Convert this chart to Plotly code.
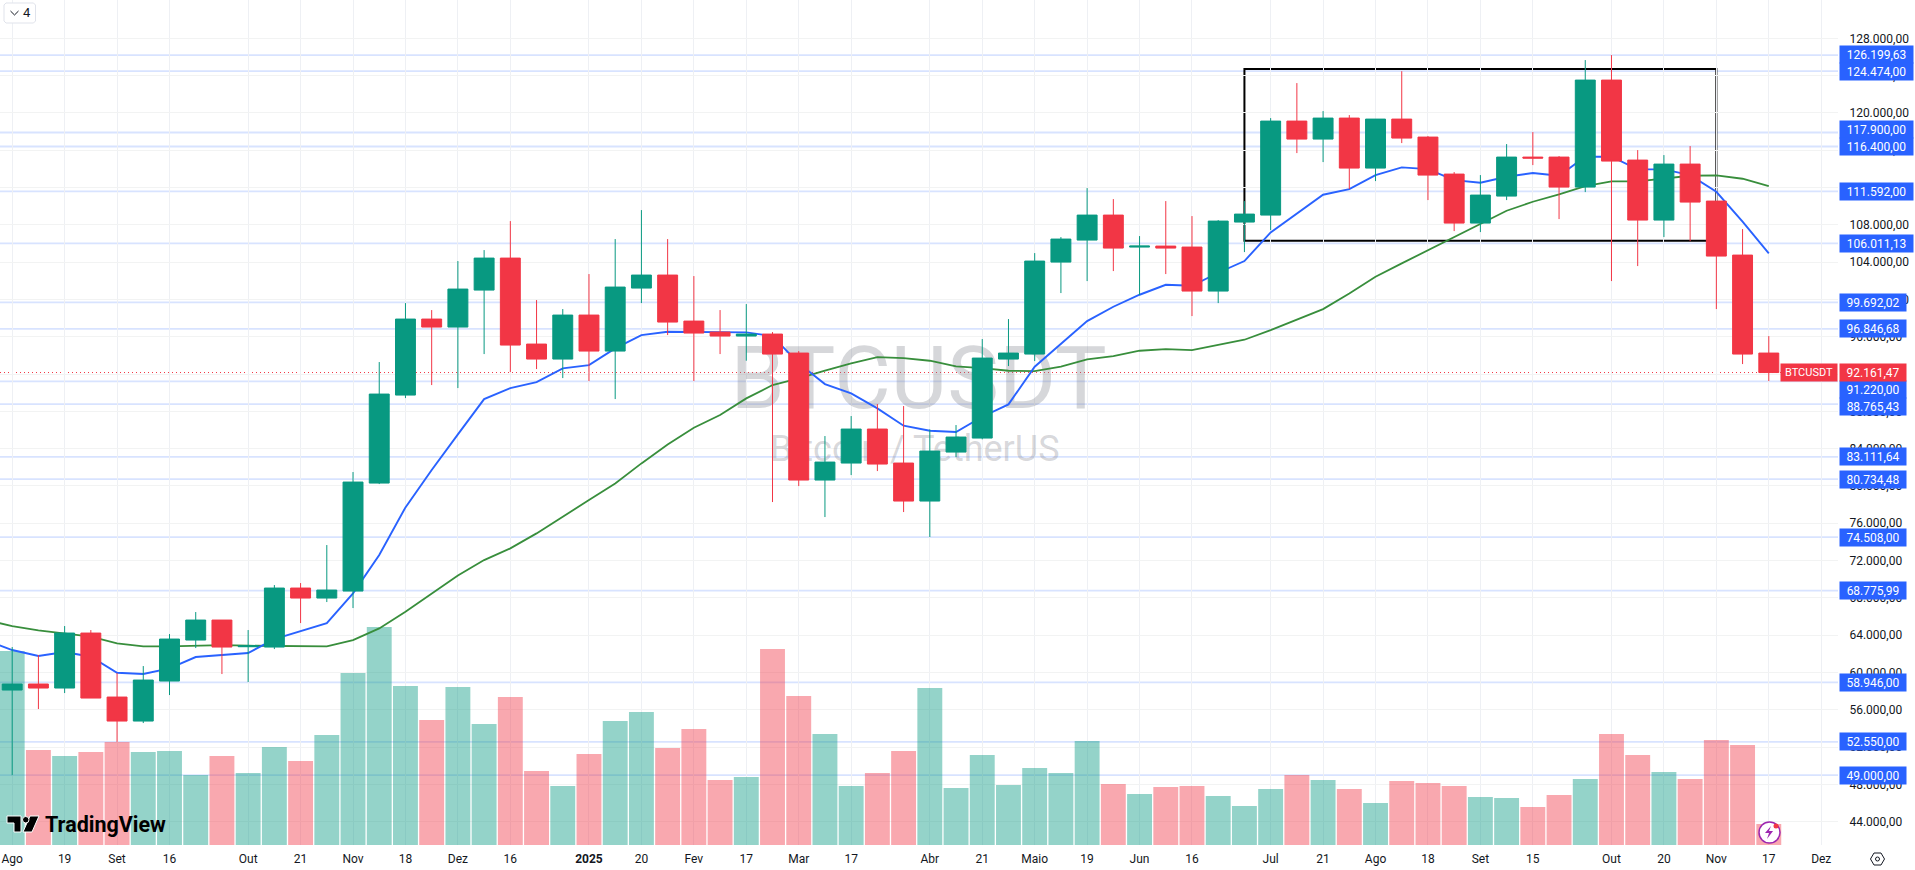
import pandas as pd
import plotly.graph_objects as go

# weekly BTCUSDT candles
weeks = pd.date_range("2024-08-05", periods=68, freq="7D")
opens = [58115, 58759, 58330, 64226, 57364, 54790, 59080, 63476, 65621, 62760, 62725, 69052, 67980, 68730, 80309, 89745,
         97894, 97037, 101003, 104434, 95213, 93605, 98323, 94463, 101218, 102612, 97679, 96500, 96072, 96286, 94248, 80631,
         82454, 86100, 82454, 78380, 83633, 85134, 93605, 94141, 104005, 106364, 109045, 105614, 105721, 105614, 100896, 108295,
         109045, 119124, 117194, 119445, 114084, 119338, 117408, 113441, 108187, 111082, 115263, 115263, 112047, 123519, 114942, 108509,
         114513, 110546, 104756, 94248]
highs = [62726, 61868, 64977, 64548, 59938, 60688, 64120, 66478, 65621, 64548, 69373, 69587, 73662, 81489, 93284, 99609,
         98859, 104113, 105292, 108401, 99931, 98966, 102719, 106472, 109581, 106472, 102505, 98859, 99502, 96500, 94463, 85349,
         87494, 88780, 88566, 86065, 86530, 95749, 97894, 104970, 106686, 111939, 110760, 106794, 110546, 108937, 108508, 110546,
         119445, 123198, 120196, 119767, 119338, 124474, 117515, 113655, 113333, 116658, 117944, 115370, 125664, 126200, 116014, 115478,
         116443, 110546, 107544, 96071]
lows = [48981, 56078, 57793, 57257, 52550, 54576, 57579, 62618, 59830, 58973, 62511, 65299, 67550, 66907, 80202, 89423,
        90817, 90495, 94141, 92212, 92533, 91567, 91246, 89316, 99609, 96179, 91246, 94141, 93427, 78272, 79988, 76664,
        81167, 81596, 77200, 74520, 83097, 85000, 92855, 93390, 100682, 101968, 103041, 100467, 102719, 98216, 99609, 105077,
        107436, 115693, 114727, 111833, 112690, 116765, 110653, 107329, 107222, 110653, 114406, 108616, 111511, 101969, 103577, 106686,
        106257, 98966, 93069, 91246]
closes = [58759, 58330, 64226, 57257, 54790, 59187, 63583, 65621, 62725, 62850, 69052, 67980, 68837, 80417, 89852, 97894,
          97037, 101111, 104434, 95106, 93605, 98323, 94463, 101325, 102612, 97572, 96393, 96072, 96286, 94141, 80631, 82561,
          86100, 82347, 78380, 83740, 85242, 93712, 94248, 104113, 106472, 109045, 105506, 105721, 105506, 100896, 108401, 109152,
          119124, 117194, 119445, 114084, 119338, 117300, 113333, 108187, 111189, 115263, 115156, 112047, 123519, 114835, 108509, 114513,
          110438, 104649, 94141, 92161]
volumes = [194, 95, 89, 93, 103, 93, 94, 70, 89, 72, 98, 84, 110, 172, 218, 159,
           125, 158, 121, 148, 74, 59, 91, 124, 133, 97, 116, 65, 68, 196, 149, 111,
           59, 72, 94, 157, 57, 90, 60, 77, 72, 104, 61, 51, 58, 59, 49, 39,
           56, 70, 65, 56, 42, 64, 62, 59, 48, 47, 38, 50, 66, 111, 90, 73,
           66, 105, 100, 21]

# the moving averages start one week before the first visible candle
ma_weeks = pd.date_range("2024-07-29", periods=69, freq="7D")
ma_fast = [63476, 62404, 61761, 62190, 61689, 59973, 59830, 60438, 61653, 61868, 62082, 63583, 64476, 65299, 68480, 72590, 77700,
           81703, 85527, 89316, 90495, 91139, 92604, 92962, 94749, 96179, 96536, 96536, 96465, 96465, 96072, 93140, 90925,
           89924, 88316, 86458, 85921, 85778, 87422, 88744, 92783, 95284, 97679, 99216, 100503, 101575, 101468, 102862, 104113,
           107186, 109223, 111225, 111833, 113333, 114156, 113977, 112798, 112511, 113154, 113548, 113262, 115299, 115299, 113941, 113941,
           113333, 111546, 108330, 104935]
ma_slow = [65621, 64977, 64512, 64191, 63833, 63118, 62797, 62797, 62868, 62940, 62868, 62832, 62797, 62797, 63476, 64727, 66514,
           68480, 70410, 72053, 73305, 74913, 76664, 78487, 80274, 82418, 84455, 86244, 87601, 89390, 90817, 91532, 92355,
           93140, 93820, 93712, 93427, 92819, 92640, 92355, 92319, 92783, 93569, 93927, 94498, 94677, 94570, 95106, 95678,
           96714, 97858, 98966, 100646, 102433, 103862, 105292, 106722, 108080, 109510, 110475, 111260, 112154, 112654, 112654, 112976,
           113262, 113298, 112940, 112154]

levels = [126199.63, 124474.00, 117900.00, 116400.00, 111592.00, 106011.13, 99692.02, 96846.68, 91220.00, 88765.43,
          83111.64, 80734.48, 74508.00, 68775.99, 58946.00, 52550.00, 49000.00]
level_labels = ["126.199,63", "124.474,00", "117.900,00", "116.400,00", "111.592,00", "106.011,13", "99.692,02", "96.846,68",
                "91.220,00", "88.765,43", "83.111,64", "80.734,48", "74.508,00", "68.775,99", "58.946,00", "52.550,00", "49.000,00"]
# labels that TradingView pushes away from their line so they don't collide
label_shift = {"126.199,63": 1, "117.900,00": 3, "91.220,00": -8, "88.765,43": -2}

price_ticks = list(range(44000, 132001, 4000))

tick_dates = ["2024-08-05", "2024-08-19", "2024-09-02", "2024-09-16", "2024-10-07", "2024-10-21", "2024-11-04", "2024-11-18",
              "2024-12-02", "2024-12-16", "2025-01-06", "2025-01-20", "2025-02-03", "2025-02-17", "2025-03-03", "2025-03-17",
              "2025-04-07", "2025-04-21", "2025-05-05", "2025-05-19", "2025-06-02", "2025-06-16", "2025-07-07", "2025-07-21",
              "2025-08-04", "2025-08-18", "2025-09-01", "2025-09-15", "2025-10-06", "2025-10-20", "2025-11-03", "2025-11-17",
              "2025-12-01"]
tick_labels = ["Ago", "19", "Set", "16", "Out", "21", "Nov", "18", "Dez", "16", "<b>2025</b>", "20", "Fev", "17", "Mar", "17",
               "Abr", "21", "Maio", "19", "Jun", "16", "Jul", "21", "Ago", "18", "Set", "15", "Out", "20", "Nov", "17", "Dez"]

last_price = 92161.47

UP = "#089981"
DOWN = "#f23645"
BADGE = "#2962ff"
TEXT = "#131722"
PLOT_W = 1838
PLOT_H = 845


def px(x):
    return x / PLOT_W


def py(y):
    return 1 - y / PLOT_H


def pixel_path(points, closed=True):
    # svg path from pixel points, in paper coordinates
    path = "M " + " L ".join(f"{px(x):.5f} {py(y):.5f}" for x, y in points)
    return path + " Z" if closed else path


def price_text(v):
    return f"{v:,.2f}".replace(",", "#").replace(".", ",").replace("#", ".")


bar_colors = ["rgba(8,153,129,0.43)" if c >= o else "rgba(242,54,69,0.43)" for o, c in zip(opens, closes)]

fig = go.Figure()

# volume sits at the bottom, then the averages, candles on top of everything
fig.add_trace(go.Bar(x=weeks, y=volumes, marker=dict(color=bar_colors, line_width=0), yaxis="y", showlegend=False))
fig.add_trace(go.Scatter(x=["2025-04-04", "2025-04-03"], y=[90700, 83600], mode="text", yaxis="y2", showlegend=False,
                         text=["BTCUSDT", "Bitcoin / TetherUS"], textposition="middle center",
                         textfont=dict(family="Roboto", size=[87, 36], color="rgba(120,123,134,0.3)")))
fig.add_trace(go.Scatter(x=ma_weeks, y=ma_slow, mode="lines", line=dict(color="#388e3c", width=1.8), yaxis="y2", showlegend=False))
fig.add_trace(go.Scatter(x=ma_weeks, y=ma_fast, mode="lines", line=dict(color="#2962ff", width=1.9), yaxis="y2", showlegend=False))
fig.add_trace(go.Candlestick(x=weeks, open=opens, high=highs, low=lows, close=closes, yaxis="y3", showlegend=False, whiskerwidth=0,
                             increasing=dict(line=dict(color=UP, width=1), fillcolor=UP),
                             decreasing=dict(line=dict(color=DOWN, width=1), fillcolor=DOWN)))

shapes = []
for level in levels:
    shapes.append(dict(type="line", xref="paper", yref="y3", x0=0, x1=1, y0=level, y1=level, layer="below",
                       line=dict(color="rgba(41,98,255,0.18)", width=1.8)))
shapes.append(dict(type="line", xref="paper", yref="y3", x0=0, x1=1, y0=last_price, y1=last_price, layer="below",
                   line=dict(color=DOWN, width=1, dash="1px,3px")))
shapes.append(dict(type="rect", xref="x", yref="y3", x0="2025-06-30", x1="2025-11-03", y0=106293, y1=124700, layer="below",
                   line=dict(color="#000000", width=2)))

# TradingView logo
logo = dict(type="path", xref="paper", yref="paper", fillcolor="#000000", line=dict(color="#ffffff", width=1))
shapes.append(dict(logo, path=pixel_path([(7, 816), (21, 816), (21, 832), (14, 832), (14, 823), (7, 823)])))
shapes.append(dict(logo, path=pixel_path([(30, 816), (39, 816), (32, 832), (23, 832)])))
shapes.append(dict(type="circle", xref="paper", yref="paper", x0=px(22.5), x1=px(29), y0=py(823), y1=py(816.5),
                   fillcolor="#000000", line=dict(color="#ffffff", width=1)))

# indicator toggle, top left
shapes.append(dict(type="path", xref="paper", yref="paper", fillcolor="#ffffff", line=dict(color="#e0e3eb", width=1),
                   path=pixel_path([(6, 3), (33.5, 3), (35.5, 5), (35.5, 21), (33.5, 23), (6, 23), (4, 21), (4, 5)])))
shapes.append(dict(type="path", xref="paper", yref="paper", line=dict(color=TEXT, width=1),
                   path=pixel_path([(10.5, 11), (14.5, 15), (18.5, 11)], closed=False)))

# lightning badge on the last bar
shapes.append(dict(type="circle", xref="paper", yref="paper", x0=px(1759), x1=px(1780), y0=py(843), y1=py(822),
                   fillcolor="#ffffff", line=dict(color="#9c27b0", width=1.5)))
shapes.append(dict(type="path", xref="paper", yref="paper", fillcolor="#9c27b0", line_width=0,
                   path=pixel_path([(1771, 826), (1765, 833), (1769, 833), (1767, 839), (1773, 831), (1769, 831)])))
shapes.append(dict(type="circle", xref="paper", yref="paper", x0=px(1773.5), x1=px(1778.5), y0=py(828.5), y1=py(823.5),
                   fillcolor=DOWN, line_width=0))

# settings icon, bottom right
shapes.append(dict(type="path", xref="paper", yref="paper", fillcolor="rgba(0,0,0,0)", line=dict(color=TEXT, width=1),
                   path=pixel_path([(1870.5, 859), (1874, 853), (1881, 853), (1884.5, 859), (1881, 865), (1874, 865)])))
shapes.append(dict(type="circle", xref="paper", yref="paper", x0=px(1875.5), x1=px(1879.5), y0=py(861), y1=py(857),
                   fillcolor="rgba(0,0,0,0)", line=dict(color=TEXT, width=1)))

annotations = []
for level, label in zip(levels, level_labels):
    annotations.append(dict(xref="paper", yref="y3", x=1, y=level, xanchor="left", yanchor="middle", xshift=1,
                            yshift=label_shift.get(label, 0), text=label, showarrow=False, width=73 if len(label) > 9 else 66,
                            height=17, borderpad=0, align="center", valign="middle", bgcolor=BADGE,
                            font=dict(family="Roboto", size=12, color="#ffffff")))
annotations.append(dict(xref="paper", yref="y3", x=1, y=last_price, xanchor="left", yanchor="middle", xshift=1, text=price_text(last_price),
                        showarrow=False, width=66, height=17, borderpad=0, align="center", valign="middle", bgcolor=DOWN,
                        font=dict(family="Roboto", size=12, color="#ffffff")))
annotations.append(dict(xref="paper", yref="y3", x=1, y=last_price, xanchor="right", yanchor="middle", text="BTCUSDT",
                        showarrow=False, width=56, height=17, borderpad=0, align="center", valign="middle", bgcolor=DOWN,
                        font=dict(family="Roboto", size=11, color="#ffffff")))
annotations.append(dict(xref="paper", yref="paper", x=px(43), y=py(824), xanchor="left", yanchor="middle", text="<b>TradingView</b>",
                        showarrow=False, font=dict(family="Roboto", size=21.5, color="#000000")))
annotations.append(dict(xref="paper", yref="paper", x=px(27.3), y=py(13), xanchor="center", yanchor="middle", text="4", showarrow=False,
                        font=dict(family="Roboto", size=13, color=TEXT)))

price_range = [41500, 132107]

fig.update_layout(
    width=1915,
    height=870,
    margin=dict(l=0, r=77, t=0, b=25),
    paper_bgcolor="#ffffff",
    plot_bgcolor="#ffffff",
    showlegend=False,
    bargap=0.05,
    boxgap=0.24,
    boxgroupgap=0,
    shapes=shapes,
    annotations=annotations,
    font=dict(family="Roboto", size=12, color=TEXT),
    xaxis=dict(type="date", range=["2024-08-01 17:53", "2025-12-05 11:30"], tickmode="array", tickvals=tick_dates, ticktext=tick_labels,
               showgrid=True, gridcolor="#eef0f4", gridwidth=1, ticks="outside", ticklen=3, tickcolor="rgba(0,0,0,0)",
               showline=False, zeroline=False, rangeslider=dict(visible=False)),
    yaxis=dict(range=[0, PLOT_H], showgrid=False, showticklabels=False, zeroline=False, showline=False),
    yaxis2=dict(range=price_range, overlaying="y", showgrid=False, showticklabels=False, zeroline=False, showline=False),
    # 132.000 is only a grid line, its label falls off the top of the page
    yaxis3=dict(range=price_range, overlaying="y", side="right", tickmode="array", tickvals=price_ticks,
                ticktext=[price_text(t) if t < 132000 else "" for t in price_ticks],
                showgrid=True, gridcolor="#f2f3f3", gridwidth=1, ticks="outside", ticklen=8, tickcolor="rgba(0,0,0,0)",
                showline=False, zeroline=False),
)

fig.write_html("out.html", config=dict(displayModeBar=False),
               post_script="document.body.style.margin='0';document.documentElement.style.overflow='hidden';")
